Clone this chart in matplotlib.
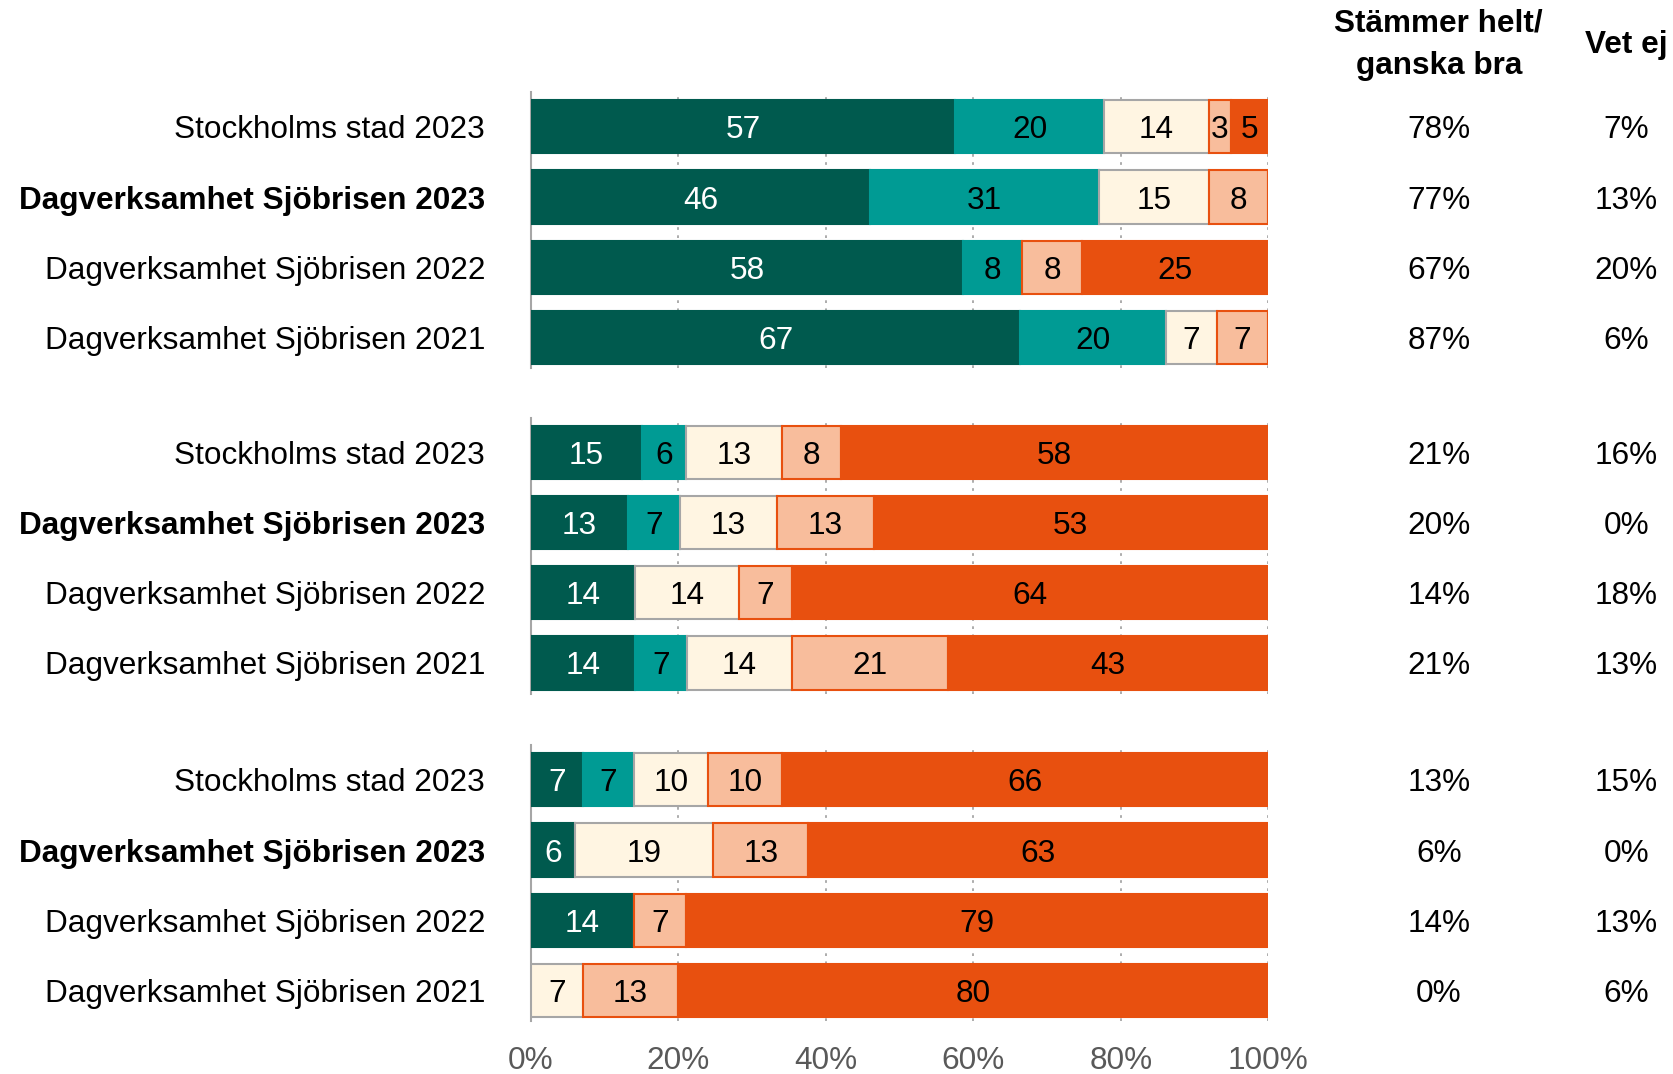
import numpy as np
import matplotlib.pyplot as plt
from matplotlib.transforms import blended_transform_factory

plt.rcParams['font.family'] = ['Liberation Sans', 'DejaVu Sans']

rows = ['Stockholms stad 2023', 'Dagverksamhet Sjöbrisen 2023',
        'Dagverksamhet Sjöbrisen 2022', 'Dagverksamhet Sjöbrisen 2021']
bold_row = 1

# five answer categories per bar, one block per question
q1 = [[57, 20, 14, 3, 5],
      [46, 31, 15, 8, 0],
      [58, 8, 0, 8, 25],
      [67, 20, 7, 7, 0]]
q2 = [[15, 6, 13, 8, 58],
      [13, 7, 13, 13, 53],
      [14, 0, 14, 7, 64],
      [14, 7, 14, 21, 43]]
q3 = [[7, 7, 10, 10, 66],
      [6, 0, 19, 13, 63],
      [14, 0, 0, 7, 79],
      [0, 0, 7, 13, 80]]

agree1 = ['78%', '77%', '67%', '87%']
dontknow1 = ['7%', '13%', '20%', '6%']
agree2 = ['21%', '20%', '14%', '21%']
dontknow2 = ['16%', '0%', '18%', '13%']
agree3 = ['13%', '6%', '14%', '0%']
dontknow3 = ['15%', '0%', '13%', '6%']

colors = ['#005A4E', '#009B94', '#FFF5E2', '#F8BD9C', '#E8500F']
edges = ['#005A4E', '#009B94', '#A6A6A6', '#E8500F', '#E8500F']
txtcol = ['white', 'black', 'black', 'black', 'black']

fs = 22.7

fig = plt.figure(figsize=(16.73, 10.74), dpi=100)

blocks = [(q1, agree1, dontknow1), (q2, agree2, dontknow2), (q3, agree3, dontknow3)]
bottoms = [0.657, 0.354, 0.049]
h = 0.257
ax_l, ax_r = 0.3174, 0.758
col1_x, col2_x = 0.860, 0.972

for bi, (data, agree, dk) in enumerate(blocks):
    ax = fig.add_axes([ax_l, bottoms[bi], ax_r - ax_l, h])
    vals = np.array(data, dtype=float)
    vals = vals / vals.sum(axis=1, keepdims=True) * 100
    y = np.arange(len(rows))
    left = np.zeros(len(rows))
    for k in range(5):
        ax.barh(y, vals[:, k], left=left, height=0.76, color=colors[k],
                edgecolor=edges[k], linewidth=1.5, zorder=3)
        for i in range(len(rows)):
            if data[i][k] > 0:
                ax.text(left[i] + vals[i, k] / 2, y[i], str(data[i][k]),
                        ha='center', va='center_baseline', fontsize=fs,
                        color=txtcol[k], zorder=4)
        left += vals[:, k]
    ax.set_xlim(0, 100)
    ax.set_ylim(3.44, -0.49)
    ax.set_yticks(y)
    ax.set_yticklabels(rows, fontsize=fs)
    for i, t in enumerate(ax.get_yticklabels()):
        if i == bold_row:
            t.set_fontweight('bold')
    ax.tick_params(axis='y', length=0, pad=33)
    ax.set_xticks([0, 20, 40, 60, 80, 100])
    ax.xaxis.grid(True, linestyle=(0, (1.5, 3)), color='#A6A6A6', linewidth=1.3, zorder=0)
    for s in ['top', 'right', 'bottom']:
        ax.spines[s].set_visible(False)
    ax.spines['left'].set_color('#A6A6A6')
    ax.spines['left'].set_linewidth(1.5)
    if bi == 2:
        ax.set_xticklabels([f'{v}%' for v in [0, 20, 40, 60, 80, 100]],
                           fontsize=fs, color='#595959')
        ax.tick_params(axis='x', length=0, pad=18)
    else:
        ax.tick_params(axis='x', length=0, labelbottom=False)
    tr = blended_transform_factory(fig.transFigure, ax.transData)
    for i in range(len(rows)):
        ax.text(col1_x, y[i], agree[i], transform=tr,
                ha='center', va='center_baseline', fontsize=fs)
        ax.text(col2_x, y[i], dk[i], transform=tr,
                ha='center', va='center_baseline', fontsize=fs)

fig.text(col1_x, 0.978, 'Stämmer helt/', ha='center', va='center', fontsize=fs, fontweight='bold')
fig.text(col1_x, 0.9385, 'ganska bra', ha='center', va='center', fontsize=fs, fontweight='bold')
fig.text(col2_x, 0.958, 'Vet ej', ha='center', va='center', fontsize=fs, fontweight='bold')

fig.savefig('out.png', dpi=100)
